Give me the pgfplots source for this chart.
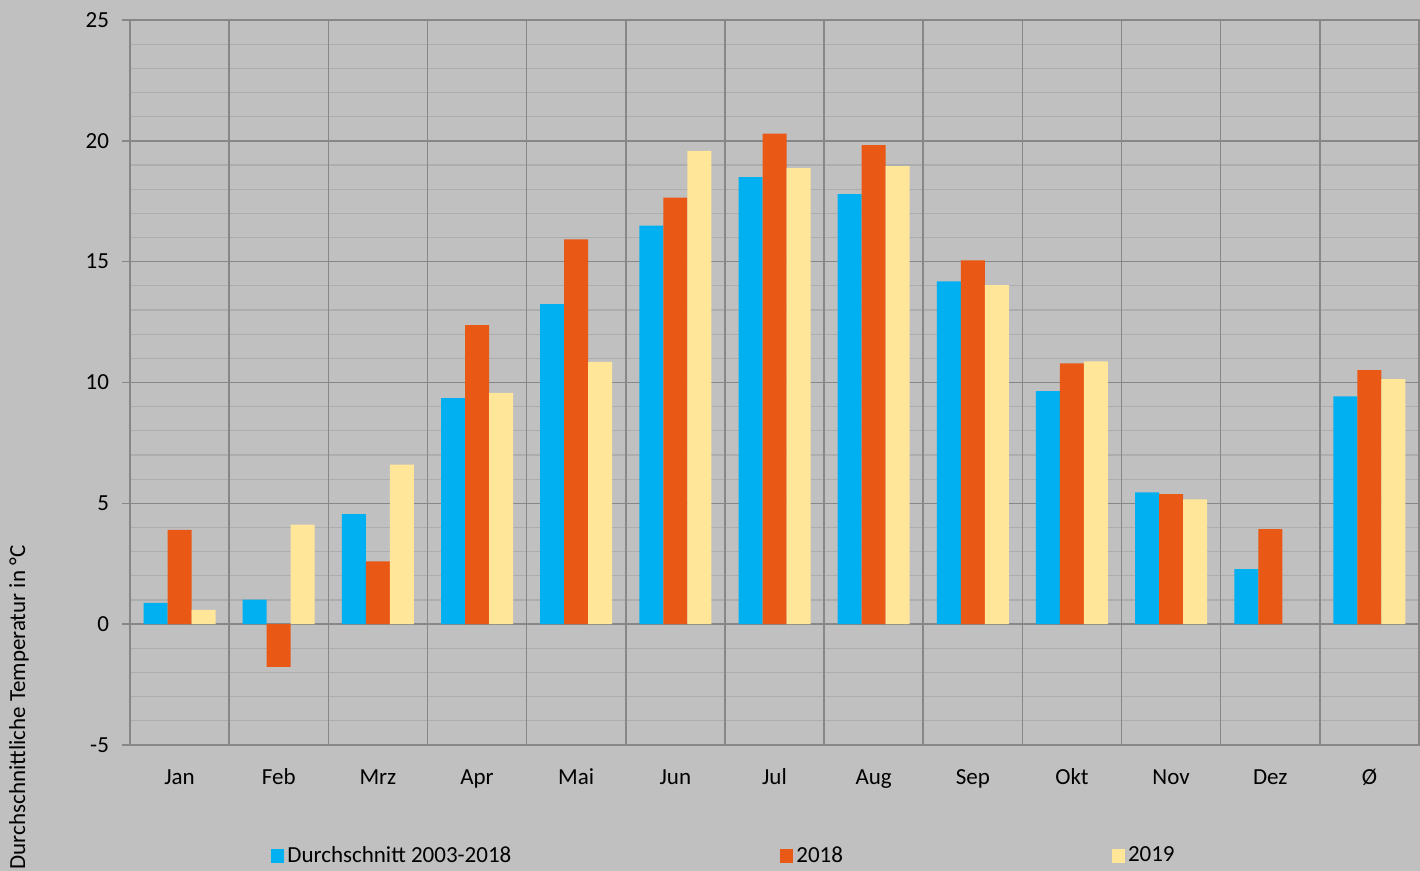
\documentclass[border=0pt]{standalone}
\usepackage{pgfplots}
\pgfplotsset{compat=1.18}
\usepackage{fontspec}
\setmainfont{Carlito}
\definecolor{bg}{HTML}{C0C0C0}
\definecolor{majg}{HTML}{878787}
\definecolor{ming}{HTML}{ADADAD}
\definecolor{cblue}{HTML}{00B0F0}
\definecolor{corange}{HTML}{E95815}
\definecolor{cyellow}{HTML}{FFE699}
\begin{document}
\begin{tikzpicture}
\path[use as bounding box, fill=bg] (0,0) rectangle (710pt,435.5pt);
\begin{axis}[
  at={(65pt,63pt)}, anchor=south west,
  scale only axis, width=644.5pt, height=362.5pt,
  font=\fontsize{11.5}{13.5}\selectfont,
  /pgf/number format/assume math mode=true,
  ybar=0pt, bar width=12pt,
  xmin=-0.5, xmax=12.5, ymin=-5, ymax=25,
  xtick={0,...,12},
  xticklabels={Jan,Feb,Mrz,Apr,Mai,Jun,Jul,Aug,Sep,Okt,Nov,Dez,Ø},
  x tick style={draw=none},
  xticklabel style={text height=8pt, text depth=2.5pt, yshift=-4pt},
  extra x ticks={-0.5,0.5,...,12.5},
  extra x tick labels={},
  extra x tick style={grid=major, major tick length=0pt},
  ytick={-5,0,...,25},
  minor ytick={-4,-3,-2,-1,1,2,3,4,6,7,8,9,11,12,13,14,16,17,18,19,21,22,23,24},
  ymajorgrids, yminorgrids,
  major grid style={draw=majg, line width=0.75pt},
  minor grid style={draw=ming, line width=0.6pt},
  y tick style={draw=majg, line width=0.75pt},
  tick align=outside, major tick length=4pt, minor tick length=0pt,
  yticklabel style={xshift=-3pt},
  axis line style={draw=majg, line width=0.75pt},
  axis background/.style={fill=bg},
  ylabel={Durchschnittliche Temperatur in °C},
  ylabel style={at={(axis description cs:-0.0861,0.2759)}, anchor=east, rotate=0, inner sep=0pt},
  legend columns=3,
  legend style={at={(axis description cs:0,0)}, anchor=west, xshift=70.5pt, yshift=-55.5pt,
    draw=none, fill=none, inner sep=0pt, nodes={inner sep=1.5pt, font=\fontsize{11.5}{13.5}\selectfont},
    /tikz/every even column/.append style={column sep=133pt}},
  legend image code/.code={\fill[#1] (0pt,-3.5pt) rectangle (6.5pt,3.5pt);},
]
\addplot[fill=cblue, draw=none] coordinates {(0,0.88) (1,1.02) (2,4.55) (3,9.35) (4,13.24) (5,16.49) (6,18.5) (7,17.79) (8,14.18) (9,9.64) (10,5.45) (11,2.28) (12,9.43)};
\addplot[fill=corange, draw=none] coordinates {(0,3.9) (1,-1.77) (2,2.6) (3,12.37) (4,15.92) (5,17.65) (6,20.3) (7,19.82) (8,15.05) (9,10.79) (10,5.38) (11,3.93) (12,10.51)};
\addplot[fill=cyellow, draw=none] coordinates {(0,0.59) (1,4.12) (2,6.6) (3,9.57) (4,10.85) (5,19.58) (6,18.87) (7,18.95) (8,14.03) (9,10.87) (10,5.16) (12,10.14)};
\legend{Durchschnitt 2003-2018,2018,2019}
\end{axis}
\end{tikzpicture}
\end{document}
